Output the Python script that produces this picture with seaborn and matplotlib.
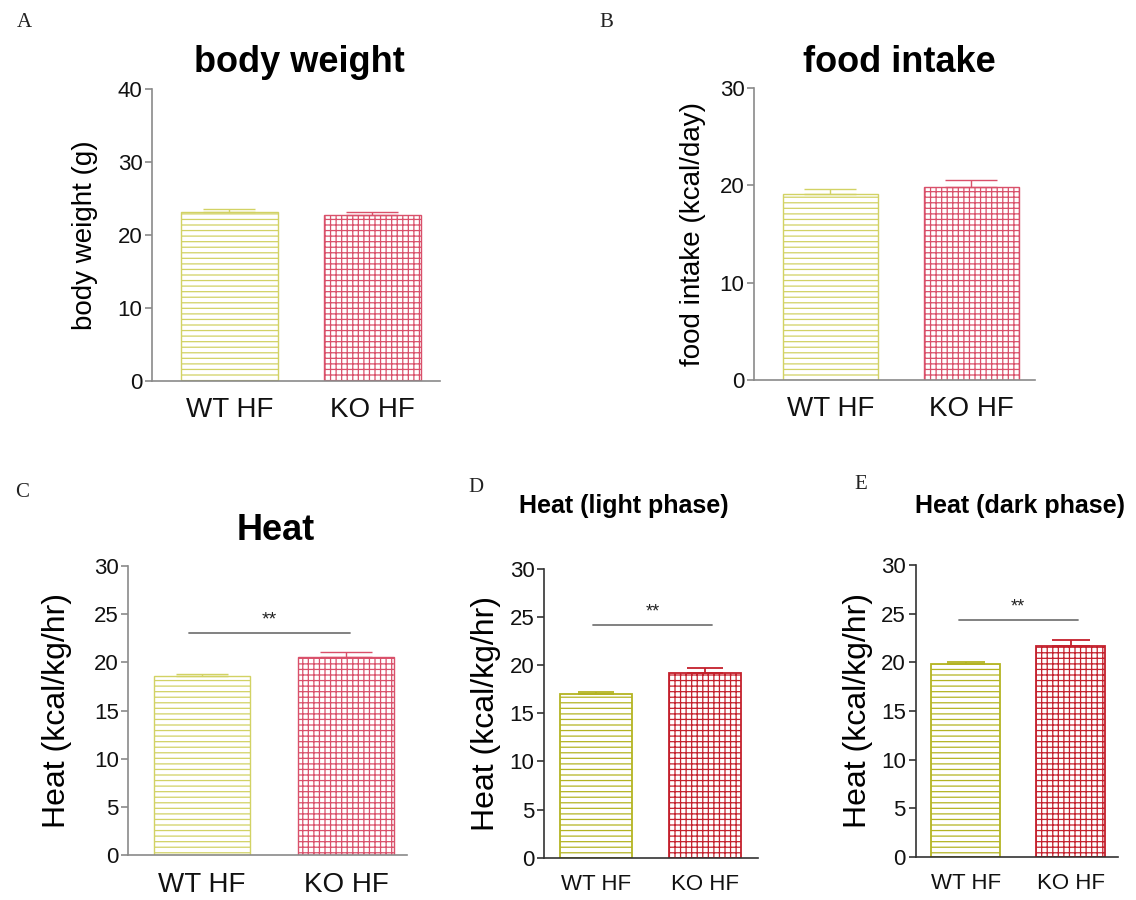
import matplotlib
matplotlib.use("Agg")
import matplotlib.pyplot as plt
import seaborn as sns
import pandas as pd
from matplotlib import font_manager

# ---- data -------------------------------------------------------------
groups = ["WT HF", "KO HF"]

body_weight = [23.2, 22.7]
body_weight_sem = [0.3, 0.5]

food_intake = [19.1, 19.8]
food_intake_sem = [0.5, 0.8]

heat_total = [18.6, 20.6]
heat_total_sem = [0.15, 0.5]

heat_light = [17.0, 19.2]
heat_light_sem = [0.25, 0.5]

heat_dark = [19.8, 21.7]
heat_dark_sem = [0.2, 0.6]

sig_label = "**"
sig_heat = 23.1
sig_light = 24.2
sig_dark = 24.4

# ---- style ------------------------------------------------------------
sns.set_theme(style="white")
plt.rcParams["font.family"] = ["Liberation Sans", "DejaVu Sans"]
plt.rcParams["hatch.linewidth"] = 0.9
plt.rcParams["text.color"] = "black"


def has_font(name):
    try:
        font_manager.findfont(name, fallback_to_default=False)
        return True
    except Exception:
        return False


NARROW = ["Liberation Sans Narrow", "Liberation Sans"] if has_font("Liberation Sans Narrow") else ["Liberation Sans"]
SERIF = ["Liberation Serif", "DejaVu Serif"]
sans = ["Liberation Sans"]

WT_LIGHT, KO_LIGHT = "#d2d264", "#d9506a"
WT_DARK, KO_DARK = "#b4b422", "#c4202c"

fig = plt.figure(figsize=(11.36, 9.0), dpi=100)


def panel(rect, values, sems, colors, ymax, ystep, ylabel, xlim, barwidth,
          capsize, spine_color, label_size, xtick_size, tick_size, family,
          labelpad, lw=1.0):
    ax = fig.add_axes(rect)
    df = pd.DataFrame({"group": groups, "value": values})
    sns.barplot(data=df, x="group", y="value", color="white", width=barwidth,
                errorbar=None, ax=ax)
    for patch, color, hatch in zip(ax.patches, colors, ["---", "+++"]):
        patch.set_facecolor("white")
        patch.set_edgecolor(color)
        patch.set_hatch(hatch)
        patch.set_linewidth(lw)
    for i, (v, s, c) in enumerate(zip(values, sems, colors)):
        ax.errorbar(i, v, yerr=[[0], [s]], fmt="none", ecolor=c,
                    elinewidth=lw, capthick=lw, capsize=capsize, zorder=3)
    ax.set_ylim(0, ymax)
    ax.set_xlim(*xlim)
    ax.set_yticks(range(0, ymax + 1, ystep))
    ax.set_xlabel("")
    ax.set_ylabel(ylabel, fontsize=label_size, family=family, color="black",
                  labelpad=labelpad)
    for side in ("top", "right"):
        ax.spines[side].set_visible(False)
    for side in ("left", "bottom"):
        ax.spines[side].set_color(spine_color)
        ax.spines[side].set_linewidth(1.2)
    ax.tick_params(axis="y", left=True, length=5, width=1.2, color=spine_color,
                   labelsize=tick_size, pad=2)
    ax.tick_params(axis="x", bottom=False, labelsize=xtick_size, pad=6)
    for t in ax.get_xticklabels() + ax.get_yticklabels():
        t.set_family(family)
        t.set_color("#111111")
    ax.set_facecolor("white")
    return ax


def significance(ax, x0, x1, y, size):
    ax.plot([x0, x1], [y, y], color="#777777", lw=1.3)
    ax.text((x0 + x1) / 2, y + 0.4, sig_label, ha="center", va="bottom",
            fontsize=size, color="#222222")


# A: body weight
axA = panel([0.134, 0.577, 0.253, 0.324], body_weight, body_weight_sem,
            [WT_LIGHT, KO_LIGHT], 40, 10, "body weight (g)", (-0.54, 1.47),
            0.68, 19, "#8a8a8a", 20, 20, 16, sans, 14)
# B: food intake
axB = panel([0.664, 0.578, 0.247, 0.324], food_intake, food_intake_sem,
            [WT_LIGHT, KO_LIGHT], 30, 10, "food intake (kcal/day)", (-0.54, 1.45),
            0.68, 19, "#8a8a8a", 20, 20, 16, sans, 10)
# C: heat
axC = panel([0.113, 0.05, 0.245, 0.321], heat_total, heat_total_sem,
            [WT_LIGHT, KO_LIGHT], 30, 5, "Heat (kcal/kg/hr)", (-0.51, 1.42),
            0.67, 19, "#8a8a8a", 23, 20, 16, sans, 16)
significance(axC, -0.09, 1.03, sig_heat, 14)
# D: heat, light phase
axD = panel([0.479, 0.047, 0.188, 0.321], heat_light, heat_light_sem,
            [WT_DARK, KO_DARK], 30, 5, "Heat (kcal/kg/hr)", (-0.48, 1.48),
            0.66, 13, "#333333", 23, 16, 16, NARROW, 6, lw=1.3)
significance(axD, -0.03, 1.06, sig_light, 13)
# E: heat, dark phase
axE = panel([0.806, 0.048, 0.178, 0.324], heat_dark, heat_dark_sem,
            [WT_DARK, KO_DARK], 30, 5, "Heat (kcal/kg/hr)", (-0.48, 1.45),
            0.66, 14, "#333333", 23, 16, 16, NARROW, 6, lw=1.3)
significance(axE, -0.07, 1.07, sig_dark, 13)

# titles
fig.text(0.264, 0.931, "body weight", ha="center", va="center", fontsize=26,
         weight="bold", family=sans)
fig.text(0.792, 0.931, "food intake", ha="center", va="center", fontsize=26,
         weight="bold", family=sans)
fig.text(0.243, 0.411, "Heat", ha="center", va="center", fontsize=26,
         weight="bold", family=sans)
fig.text(0.549, 0.438, "Heat (light phase)", ha="center", va="center",
         fontsize=18, weight="bold", family=NARROW)
fig.text(0.898, 0.438, "Heat (dark phase)", ha="center", va="center",
         fontsize=18, weight="bold", family=NARROW)

# panel letters
for letter, x, y in [("A", 0.015, 0.975), ("B", 0.528, 0.975), ("C", 0.013, 0.453),
                     ("D", 0.412, 0.458), ("E", 0.752, 0.462)]:
    fig.text(x, y, letter, ha="left", va="center", fontsize=15, family=SERIF,
             color="#222222")

fig.savefig("out.png", dpi=100, facecolor="white")
